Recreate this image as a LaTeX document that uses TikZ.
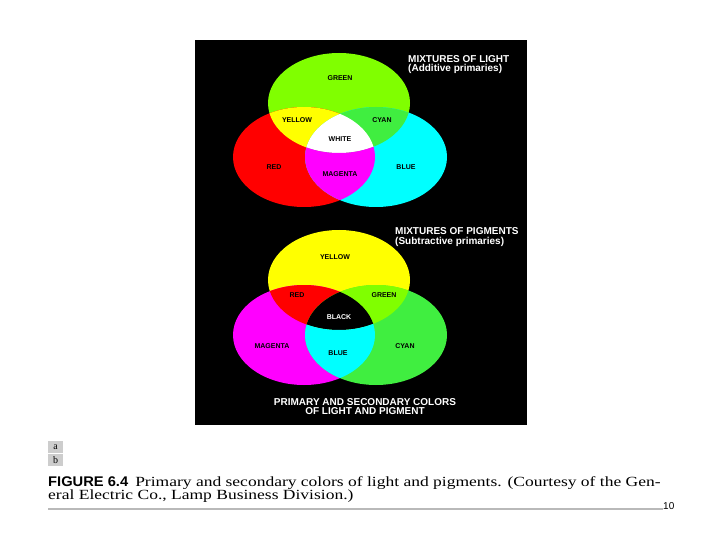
\documentclass[tikz,border=0pt]{standalone}
\usepackage{fontspec}
\setmainfont{Liberation Serif}
\newfontfamily\hvb{Liberation Sans}
\newfontfamily\capfont[FakeStretch=1.25]{Liberation Serif}
\newfontfamily\capbold[FakeStretch=1.05]{Liberation Sans}
\usetikzlibrary{positioning}
\definecolor{chart}{RGB}{128,255,0}
\definecolor{mixgreen}{RGB}{64,238,64}
\definecolor{litcyan}{RGB}{0,255,255}
\definecolor{litred}{RGB}{255,0,0}
\definecolor{litmag}{RGB}{255,0,255}
\definecolor{lityel}{RGB}{255,255,0}
\definecolor{capgray}{RGB}{205,205,205}
\definecolor{rulegray}{RGB}{185,185,185}
\tikzset{oval/.style = {x radius=71pt, y radius=50pt}}
\tikzset{lbl/.style = {inner sep=0, font=\hvb\bfseries\fontsize{7}{8}\selectfont}}
\tikzset{head/.style = {inner sep=0, anchor=base west, text=white,
    font=\hvb\bfseries\fontsize{10}{11}\selectfont}}
\tikzset{capt/.style = {inner sep=0, anchor=base west,
    font=\capfont\fontsize{14}{16}\selectfont}}

\begin{document}
\begin{tikzpicture}[x=1pt, y=-1pt]
    \useasboundingbox[fill=white] (0,0) rectangle (720,540);
    \fill[black] (195,40) rectangle (527,425);
    % light
    \coordinate (gl) at (339,103);
    \coordinate (rl) at (304,157);
    \coordinate (cl) at (376,157);
    \fill[chart] (gl) ellipse[oval];
    \fill[litred] (rl) ellipse[oval];
    \fill[litcyan] (cl) ellipse[oval];
    \begin{scope}
      \clip (gl) ellipse[oval];
      \fill[lityel] (rl) ellipse[oval];
      \fill[mixgreen] (cl) ellipse[oval];
      \clip (rl) ellipse[oval];
      \fill[white] (cl) ellipse[oval];
    \end{scope}
    \begin{scope}
      \clip (rl) ellipse[oval];
      \clip (cl) ellipse[oval];
      \fill[litmag, even odd rule] (gl) ellipse[oval] (0,0) rectangle (720,540);
    \end{scope}
    % pigment
    \coordinate (yp) at (339,280);
    \coordinate (mp) at (304,335);
    \coordinate (gp) at (376,335);
    \fill[lityel] (yp) ellipse[oval];
    \fill[litmag] (mp) ellipse[oval];
    \fill[mixgreen] (gp) ellipse[oval];
    \begin{scope}
      \clip (yp) ellipse[oval];
      \fill[litred] (mp) ellipse[oval];
      \fill[chart] (gp) ellipse[oval];
      \clip (mp) ellipse[oval];
      \fill[black] (gp) ellipse[oval];
    \end{scope}
    \begin{scope}
      \clip (mp) ellipse[oval];
      \clip (gp) ellipse[oval];
      \fill[litcyan, even odd rule] (yp) ellipse[oval] (0,0) rectangle (720,540);
    \end{scope}

    \node[lbl] (lgreen) at (340,78) {GREEN};
    \node[lbl] (lyellow) at (297,120) {YELLOW};
    \node[lbl] (lcyan) at (382,120) {CYAN};
    \node[lbl] (lwhite) at (340,139) {WHITE};
    \node[lbl] (lred) at (274,167) {RED};
    \node[lbl] (lmagenta) at (340,174) {MAGENTA};
    \node[lbl] (lblue) at (406,167) {BLUE};
    \node[head] (hlight) at (408,63) {MIXTURES OF LIGHT};
    \node[head] (hadd) at (408,72) {(Additive primaries)};

    \node[lbl] (pyellow) at (335,257) {YELLOW};
    \node[lbl] (pred) at (297,295) {RED};
    \node[lbl] (pgreen) at (384,295) {GREEN};
    \node[lbl, text=white] (pblack) at (339,317) {BLACK};
    \node[lbl] (pmagenta) at (272,346) {MAGENTA};
    \node[lbl] (pblue) at (338,353) {BLUE};
    \node[lbl] (pcyan) at (405,346) {CYAN};
    \node[head] (hpig) at (395,235) {MIXTURES OF PIGMENTS};
    \node[head] (hsub) at (395,244) {(Subtractive primaries)};
    \node[head, anchor=base] (hprim) at (365,405) {PRIMARY AND SECONDARY COLORS};
    \node[head, anchor=base] (hof) at (365,414) {OF LIGHT AND PIGMENT};

    % caption
    \node[fill=capgray, minimum width=15pt, minimum height=12pt, inner sep=0,
          anchor=north west] (ca) at (48,441) {a};
    \node[fill=capgray, minimum width=15pt, minimum height=12pt, inner sep=0,
          anchor=north west] (cb) at (48,454) {b};
    \node[capt] (cap1) at (48,486) {{\capbold\bfseries FIGURE 6.4}\enspace Primary and secondary colors of light and pigments. (Courtesy of the Gen-};
    \node[capt] (cap2) at (48,499) {eral Electric Co., Lamp Business Division.)};
    \coordinate (rulel) at (48,509);
    \coordinate (ruler) at (663,509);
    \draw[rulegray, line width=2pt] (rulel) -- (ruler);
    \node[inner sep=0, anchor=base west, font=\hvb\fontsize{10}{11}\selectfont] (pg) at (663,509) {10};
\end{tikzpicture}
\end{document}
